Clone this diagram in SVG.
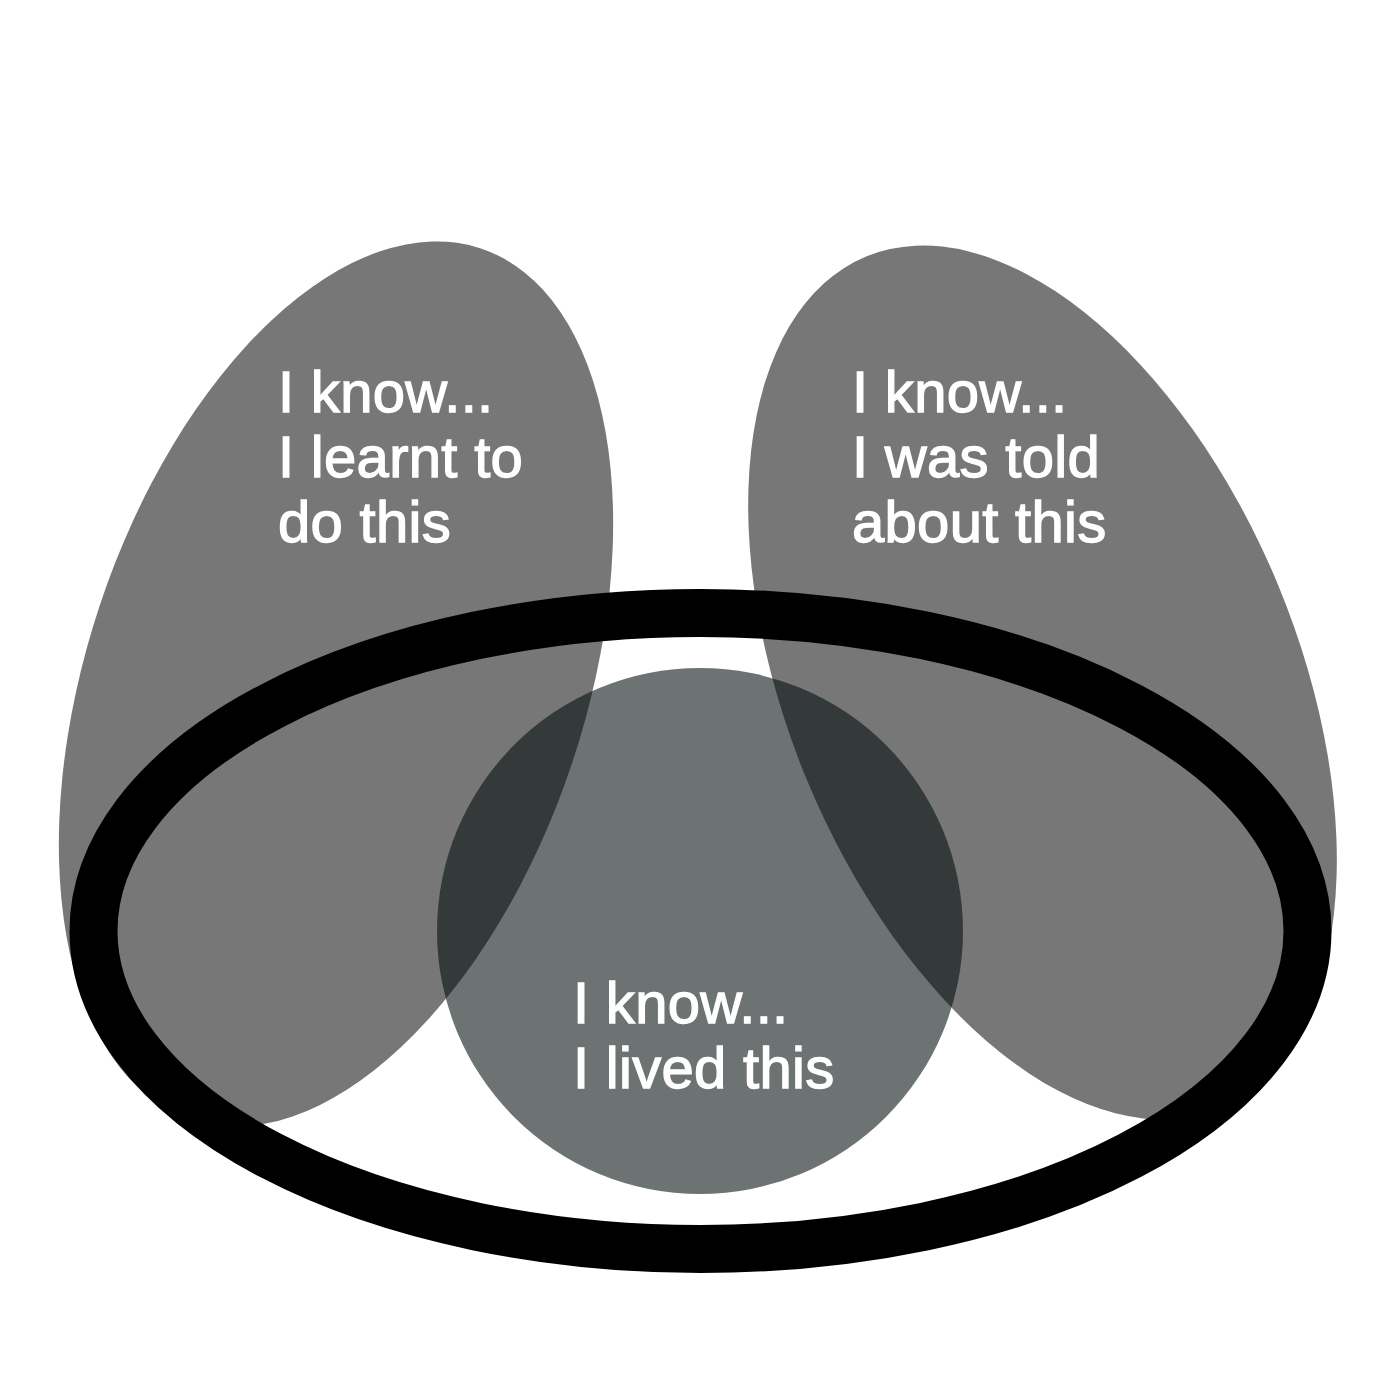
<svg xmlns="http://www.w3.org/2000/svg" width="1400" height="1400" viewBox="0 0 1400 1400">
<style>
.blob{fill:#777777}
.lived{fill:#051010;fill-opacity:0.585}
.ring{fill:none;stroke:#000000;stroke-width:48}
.lbl{font-family:"Liberation Sans",Arial,Helvetica,sans-serif;font-size:58px;fill:#ffffff;stroke:#ffffff;stroke-width:1.3px;letter-spacing:0.3px}
</style>
<rect width="1400" height="1400" fill="#ffffff"/>
<g id="learnt">
<ellipse class="blob" cx="336" cy="684" rx="249" ry="459" transform="rotate(18.4 336 684)"/>
<text class="lbl" x="278" y="412">I know...</text>
<text class="lbl" x="278" y="477">I learnt to</text>
<text class="lbl" x="278" y="542">do this</text>
</g>
<g id="told">
<ellipse class="blob" cx="1042.5" cy="682.5" rx="255" ry="461" transform="rotate(-22.5 1042.5 682.5)"/>
<text class="lbl" x="852" y="412">I know...</text>
<text class="lbl" x="852" y="477">I was told</text>
<text class="lbl" x="852" y="542">about this</text>
</g>
<g id="lived">
<circle class="lived" cx="700" cy="931" r="263"/>
<text class="lbl" x="573" y="1023">I know...</text>
<text class="lbl" x="573" y="1088">I lived this</text>
</g>
<g id="ring">
<ellipse class="ring" cx="700.5" cy="931" rx="607" ry="318"/>
</g>
<g id="connectors"/>
</svg>
